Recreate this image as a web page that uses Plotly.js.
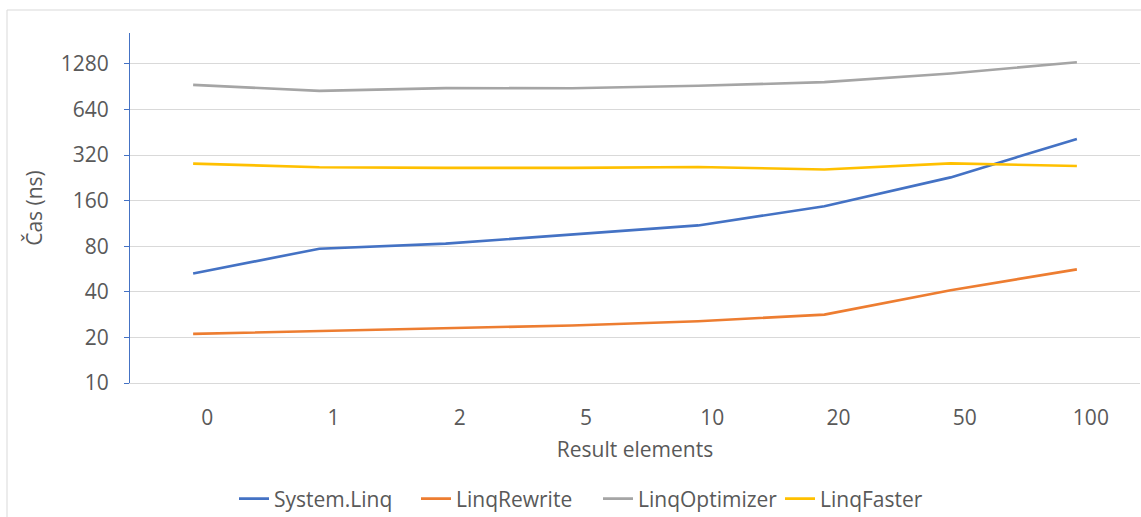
<!DOCTYPE html>
<html>
<head>
<meta charset="utf-8">
<script src="https://cdn.plot.ly/plotly-3.0.1.min.js"></script>
<style>html,body{margin:0;padding:0;background:#fff;}#chart{width:1141px;height:517px;}</style>
</head>
<body>
<div id="chart"></div>
<script>
const categories = ["0", "1", "2", "5", "10", "20", "50", "100"];
const systemLinq    = [52.8, 77.1, 83.2, 95.3, 109.8, 147, 228, 409];
const linqRewrite   = [21.1, 22.1, 22.9, 24.0, 25.6, 28.3, 41.0, 56.3];
const linqOptimizer = [931, 850, 886, 884, 918, 970, 1106, 1314];
const linqFaster    = [281, 266, 263.5, 263.5, 267, 257, 282, 271];
const yTickVals = [10, 20, 40, 80, 160, 320, 640, 1280];
const yTickText = ["10", "20", "40", "80", "160", "320", "640", "1280"];
const seriesNames = ["System.Linq", "LinqRewrite", "LinqOptimizer", "LinqFaster"];

const colors = ["#4472C4", "#ED7D31", "#A5A5A5", "#FFC000"];
const allSeries = [systemLinq, linqRewrite, linqOptimizer, linqFaster];
const FONT = "Open Sans, sans-serif";
const TXT = "#595959";
const FS = 21;

const traces = allSeries.map((vals, i) => ({
  type: "scatter",
  mode: "lines",
  x: categories,
  y: vals,
  name: seriesNames[i],
  line: {color: colors[i], width: 2.6}
}));

const layout = {
  width: 1141,
  height: 517,
  margin: {l: 130, r: 1, t: 33, b: 134, autoexpand: false},
  paper_bgcolor: "#ffffff",
  plot_bgcolor: "#ffffff",
  font: {family: FONT, size: FS, color: TXT},
  showlegend: true,
  legend: {
    orientation: "h",
    x: (234 - 130) / 1010,
    xanchor: "left",
    y: (383 - 499) / 350,
    yanchor: "middle",
    font: {family: FONT, size: FS, color: TXT},
    itemwidth: 30,
    entrywidth: 137,
    entrywidthmode: "pixels",
    tracegroupgap: 0,
    bgcolor: "rgba(0,0,0,0)"
  },
  xaxis: {
    type: "category",
    categoryorder: "array",
    categoryarray: categories,
    range: [-0.5, categories.length - 0.5],
    showgrid: false,
    zeroline: false,
    showline: true,
    linecolor: "#d9d9d9",
    linewidth: 1,
    ticks: "",
    ticklabelshift: 14,
    ticklabelstandoff: 16,
    tickfont: {family: FONT, size: FS, color: TXT},
    title: {text: "Result elements", font: {family: FONT, size: FS, color: TXT}, standoff: 12},
    fixedrange: true
  },
  yaxis: {
    type: "log",
    range: [1, Math.log10(2048)],
    tickvals: yTickVals,
    ticktext: yTickText,
    showgrid: true,
    gridcolor: "#d9d9d9",
    gridwidth: 1,
    zeroline: false,
    showline: true,
    linecolor: "#4472C4",
    linewidth: 1,
    ticks: "outside",
    ticklen: 5,
    tickcolor: "#4472C4",
    ticklabelstandoff: 11,
    tickfont: {family: FONT, size: FS, color: TXT},
    title: {text: "Čas (ns)", font: {family: FONT, size: FS, color: TXT}, standoff: 12},
    fixedrange: true
  },
  shapes: [{
    type: "rect",
    xref: "paper", yref: "paper",
    x0: (7 - 130) / 1010, x1: 1.05,
    y0: -0.5, y1: (383 - 10) / 350,
    line: {color: "#d9d9d9", width: 1},
    fillcolor: "rgba(0,0,0,0)",
    layer: "below"
  }]
};

Plotly.newPlot("chart", traces, layout, {displayModeBar: false, staticPlot: true});
</script>
</body>
</html>
